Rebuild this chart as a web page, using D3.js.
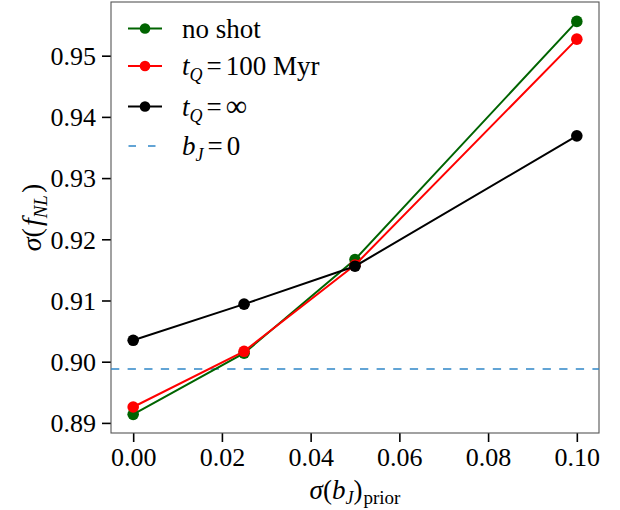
<!DOCTYPE html>
<html>
<head>
<meta charset="utf-8">
<script src="https://cdn.jsdelivr.net/npm/d3@7"></script>
<style>
  html, body { margin: 0; padding: 0; background: #fff; }
</style>
</head>
<body>
<svg id="chart" width="620" height="510"></svg>
<script>
// Prior width on b_J and the resulting forecast sigma(f_NL)
const priorWidths = [0.0, 0.025, 0.05, 0.1];
const noShot      = [0.8914, 0.9014, 0.9167, 0.9556];
const tQ100       = [0.8926, 0.9017, 0.9158, 0.9527];
const tQInf       = [0.9035, 0.9094, 0.9156, 0.9369];
const bJZero      = 0.8988;
const xTicks      = [0.00, 0.02, 0.04, 0.06, 0.08, 0.10];
const yTicks      = [0.89, 0.90, 0.91, 0.92, 0.93, 0.94, 0.95];

const SERIF = "Liberation Serif";
const DASH_BLUE = "#2f87c8";

const series = [
  { key: "noshot", values: noShot, color: "#006400" },
  { key: "tq100",  values: tQ100,  color: "#ff0000" },
  { key: "tqinf",  values: tQInf,  color: "#000000" }
];

const svg = d3.select("#chart");
const m = { left: 111, right: 599, top: 2, bottom: 433 };

const x = d3.scaleLinear().domain([-0.005, 0.105]).range([m.left, m.right]);
const y = d3.scaleLinear().domain([0.88835, 0.95877]).range([m.bottom, m.top]);

// axes
const xAxis = d3.axisBottom(x).tickValues(xTicks).tickFormat(d3.format(".2f"))
  .tickSize(9).tickPadding(6);
const yAxis = d3.axisLeft(y).tickValues(yTicks).tickFormat(d3.format(".2f"))
  .tickSize(9).tickPadding(6);

const gx = svg.append("g").attr("transform", `translate(0,${m.bottom})`).call(xAxis);
const gy = svg.append("g").attr("transform", `translate(${m.left},0)`).call(yAxis);
[gx, gy].forEach(g => {
  g.attr("font-family", SERIF).attr("font-size", 26);
  g.select(".domain").remove();
  g.selectAll(".tick line").attr("stroke", "#000").attr("stroke-width", 1.6);
  g.selectAll(".tick text").attr("font-size", 26)
    .attr("font-family", SERIF).attr("fill", "#000");
});
gx.selectAll(".tick text").attr("dy", "0.70em");
gy.selectAll(".tick text").attr("dy", "0.34em");

// plot frame
svg.append("rect")
  .attr("x", m.left).attr("y", m.top)
  .attr("width", m.right - m.left).attr("height", m.bottom - m.top)
  .attr("fill", "none").attr("stroke", "#555").attr("stroke-width", 1.1);

// b_J = 0 reference
svg.append("line")
  .attr("x1", m.left).attr("x2", m.right)
  .attr("y1", y(bJZero)).attr("y2", y(bJZero))
  .attr("stroke", DASH_BLUE).attr("stroke-width", 1.6)
  .attr("stroke-dasharray", "8.3,8.3");

// series lines and markers (drawn in order so later ones sit on top)
const line = d3.line().x((d, i) => x(priorWidths[i])).y(d => y(d));
series.forEach(s => {
  svg.append("path").datum(s.values).attr("d", line)
    .attr("fill", "none").attr("stroke", s.color).attr("stroke-width", 2);
  svg.append("g").selectAll("circle").data(s.values).join("circle")
    .attr("cx", (d, i) => x(priorWidths[i])).attr("cy", d => y(d))
    .attr("r", 5.8).attr("fill", s.color);
});

// legend
const legend = svg.append("g").attr("font-family", SERIF);
const legRows = [28.5, 66, 106.5, 146];
series.forEach((s, i) => {
  const yy = legRows[i];
  legend.append("line").attr("x1", 128).attr("x2", 162).attr("y1", yy).attr("y2", yy)
    .attr("stroke", s.color).attr("stroke-width", 2);
  legend.append("circle").attr("cx", 145).attr("cy", yy).attr("r", 5.3).attr("fill", s.color);
});
legend.append("line").attr("x1", 128.5).attr("x2", 162).attr("y1", legRows[3]).attr("y2", legRows[3])
  .attr("stroke", DASH_BLUE).attr("stroke-width", 1.6).attr("stroke-dasharray", "7.5,12");

const fs = 27;
// "no shot"
legend.append("text").attr("x", 182).attr("y", legRows[0] + 9).attr("font-size", fs)
  .attr("font-family", SERIF).text("no shot");

// t_Q = ...
function tQ(yy, rest) {
  const t = legend.append("text").attr("x", 182).attr("y", yy + 9)
    .attr("font-size", fs).attr("font-family", SERIF);
  t.append("tspan").attr("font-style", "italic").text("t");
  t.append("tspan").attr("font-style", "italic").attr("font-size", 18).attr("dy", 6).text("Q");
  t.append("tspan").attr("dy", -6).attr("dx", 4).text("=");
  t.append("tspan").attr("dx", 4).text(rest);
  return t;
}
tQ(legRows[1], "100 Myr");
tQ(legRows[2], "∞").select("tspan:last-child").attr("font-size", 30);

// b_J = 0
{
  const t = legend.append("text").attr("x", 182).attr("y", legRows[3] + 9)
    .attr("font-size", fs).attr("font-family", SERIF);
  t.append("tspan").attr("font-style", "italic").text("b");
  t.append("tspan").attr("font-style", "italic").attr("font-size", 18).attr("dy", 6).text("J");
  t.append("tspan").attr("dy", -6).attr("dx", 4).text("=");
  t.append("tspan").attr("dx", 4).text("0");
}

// x-axis label: sigma(b_J)_prior
{
  const t = svg.append("text").attr("x", (m.left + m.right) / 2).attr("y", 499)
    .attr("text-anchor", "middle").attr("font-size", 27).attr("font-family", SERIF);
  t.append("tspan").attr("font-style", "italic").text("σ");
  t.append("tspan").text("(");
  t.append("tspan").attr("font-style", "italic").text("b");
  t.append("tspan").attr("font-style", "italic").attr("font-size", 18).attr("dy", 5).text("J");
  t.append("tspan").attr("dy", -5).text(")");
  t.append("tspan").attr("font-size", 19).attr("dy", 5).attr("dx", 1).text("prior");
}

// y-axis label: sigma(f_NL)
{
  const t = svg.append("text")
    .attr("transform", `translate(41,${(m.top + m.bottom) / 2}) rotate(-90)`)
    .attr("text-anchor", "middle").attr("font-size", 28).attr("font-family", SERIF);
  t.append("tspan").attr("font-style", "italic").text("σ");
  t.append("tspan").text("(");
  t.append("tspan").attr("font-style", "italic").attr("dx", 2).text("f");
  t.append("tspan").attr("font-style", "italic").attr("font-size", 19).attr("dy", 6).text("NL");
  t.append("tspan").attr("dy", -6).attr("dx", 2).text(")");
}
</script>
</body>
</html>
